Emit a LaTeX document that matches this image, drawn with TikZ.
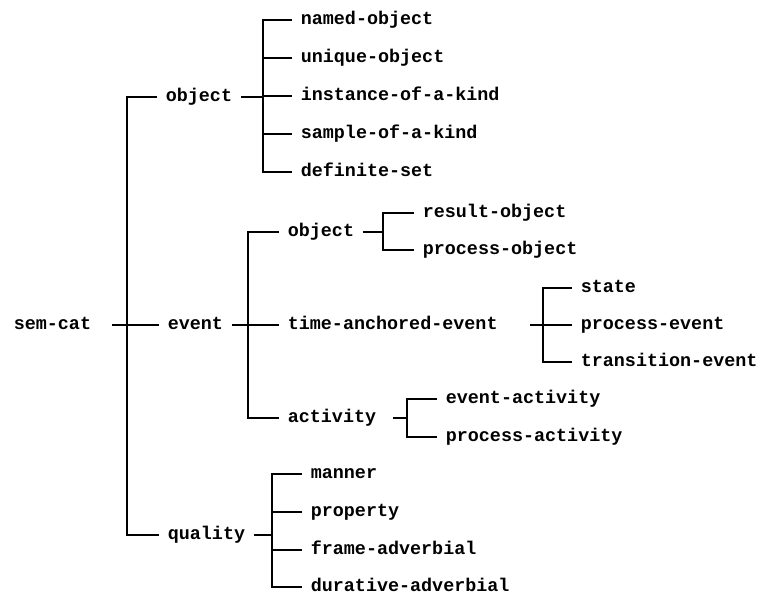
\documentclass[tikz,border=0pt]{standalone}
\usepackage{fontspec}
\setmonofont{Liberation Mono}
\usepackage{tikz}

\begin{document}
\begin{tikzpicture}[x=0.5pt,y=-0.5pt,thick,
  cat node/.style={anchor=west,inner xsep=4pt,inner ysep=1pt,text height=1ex,text depth=0pt,
    font=\ttfamily\bfseries\fontsize{9.2}{11}\selectfont}]

  \useasboundingbox (0,0) rectangle (759,597);

  % categories
  \node[cat node] (0) at (5,325) {sem-cat};
  \node[cat node] (1) at (157,97) {object};
  \node[cat node] (11) at (292,20) {named-object};
  \node[cat node] (12) at (292,58) {unique-object};
  \node[cat node] (13) at (292,96) {instance-of-a-kind};
  \node[cat node] (14) at (292,134) {sample-of-a-kind};
  \node[cat node] (15) at (292,172) {definite-set};
  \node[cat node] (2) at (159,325) {event};
  \node[cat node] (21) at (279,232) {object};
  \node[cat node] (211) at (414,213) {result-object};
  \node[cat node] (212) at (414,250) {process-object};
  \node[cat node] (22) at (279,325) {time-anchored-event};
  \node[cat node] (221) at (572,288) {state};
  \node[cat node] (222) at (572,325) {process-event};
  \node[cat node] (223) at (572,362) {transition-event};
  \node[cat node] (23) at (279,418) {activity};
  \node[cat node] (231) at (437,399) {event-activity};
  \node[cat node] (232) at (437,437) {process-activity};
  \node[cat node] (3) at (159,535) {quality};
  \node[cat node] (31) at (302,474) {manner};
  \node[cat node] (32) at (302,512) {property};
  \node[cat node] (33) at (302,550) {frame-adverbial};
  \node[cat node] (34) at (302,587) {durative-adverbial};

  % trunks
  \coordinate (t0) at (127,0);
  \coordinate (t1) at (263,0);
  \coordinate (t2) at (248,0);
  \coordinate (t21) at (383,0);
  \coordinate (t22) at (543,0);
  \coordinate (t23) at (407,0);
  \coordinate (t3) at (272,0);

  \draw ([xshift=6pt]0.east) -- (0.east -| t0);
  \draw (1.west) -| (t0 |- 3.west) -- (3.west);
  \draw (2.west) -- (2.west -| t0);

  \draw (1.east) -- (1.east -| t1);
  \draw (11.west) -| (t1 |- 15.west) -- (15.west);
  \foreach \c in {12,13,14}
    \draw (\c.west) -- (\c.west -| t1);

  \draw (2.east) -- (2.east -| t2);
  \draw (21.west) -| (t2 |- 23.west) -- (23.west);
  \draw (22.west) -- (22.west -| t2);

  \draw (21.east) -- (21.east -| t21);
  \draw (211.west) -| (t21 |- 212.west) -- (212.west);

  \draw ([xshift=12pt]22.east) -- (22.east -| t22);
  \draw (221.west) -| (t22 |- 223.west) -- (223.west);
  \draw (222.west) -- (222.west -| t22);

  \draw ([xshift=4pt]23.east) -- (23.east -| t23);
  \draw (231.west) -| (t23 |- 232.west) -- (232.west);

  \draw (3.east) -- (3.east -| t3);
  \draw (31.west) -| (t3 |- 34.west) -- (34.west);
  \foreach \c in {32,33}
    \draw (\c.west) -- (\c.west -| t3);
\end{tikzpicture}
\end{document}
